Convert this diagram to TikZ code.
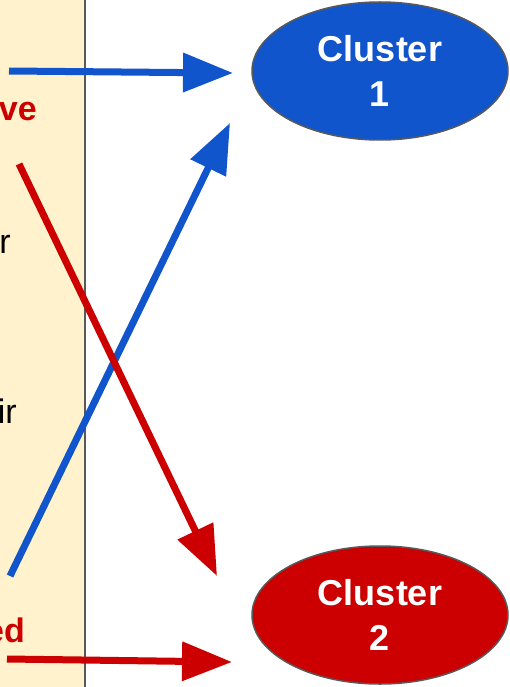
\documentclass[tikz,border=0pt]{standalone}
\usepackage{fontspec}
\setmainfont{Liberation Sans}
\usetikzlibrary{shapes.geometric,arrows.meta}
\definecolor{beige}{HTML}{FFF2CC}
\definecolor{cblue}{HTML}{1155CC}
\definecolor{cred}{HTML}{CC0000}
\definecolor{edgegray}{HTML}{595959}
\tikzset{
  cluster/.style={ellipse, draw=edgegray, line width=1.5pt, inner sep=0pt,
    minimum width=256pt, minimum height=138pt, text=white, align=center,
    font=\fontsize{36}{45}\selectfont\bfseries},
  sidetext/.style={anchor=base east, inner sep=0pt, font=\fontsize{34}{40}\selectfont},
  conn/.style={line width=7pt, -{Triangle[length=50pt,width=38pt]}},
}
\begin{document}
\begin{tikzpicture}[x=1pt,y=-1pt]
\useasboundingbox (0,0) rectangle (509,687);
\fill[beige] (0,0) rectangle (84,687);
\draw[edgegray, line width=2pt] (85,0) -- (85,687);
\node[cluster, fill=cblue] (c1) at (380,71) {Cluster\\1};
\node[cluster, fill=cred] (c2) at (380,615) {Cluster\\2};
\node[sidetext, text=cred, font=\fontsize{34}{40}\selectfont\bfseries] (t1) at (37,121) {ve};
\node[sidetext] (t2) at (11,253) {r};
\node[sidetext] (t3) at (17,423) {ir};
\node[sidetext, text=cred, font=\fontsize{34}{40}\selectfont\bfseries] (t4) at (25,642) {ed};
\coordinate (b1s) at (9,71);
\coordinate (b1e) at (233,73);
\coordinate (r1s) at (19,164);
\coordinate (r1e) at (217,576);
\coordinate (b2s) at (10,576);
\coordinate (b2e) at (230,123);
\coordinate (r2s) at (7,659);
\coordinate (r2e) at (232,662);
\draw[conn, cblue] (b1s) -- (b1e);
\draw[conn, cblue] (b2s) -- (b2e);
\draw[conn, cred] (r1s) -- (r1e);
\draw[conn, cred] (r2s) -- (r2e);
\end{tikzpicture}
\end{document}
